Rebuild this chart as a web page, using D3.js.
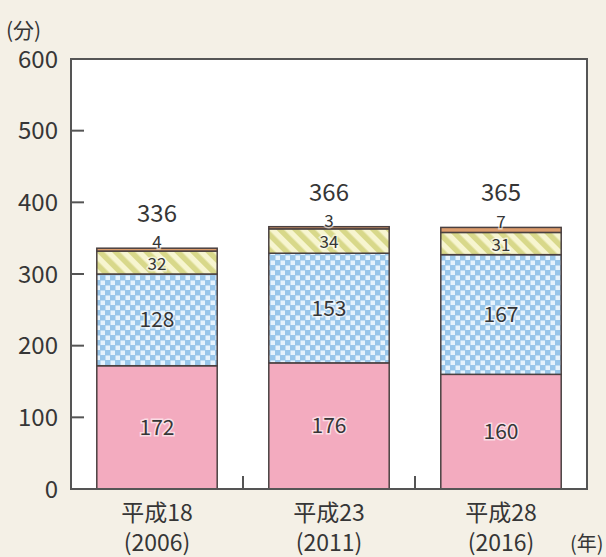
<!DOCTYPE html>
<html>
<head>
<meta charset="utf-8">
<script src="https://cdn.jsdelivr.net/npm/d3@7"></script>
<style>
  html, body { margin: 0; padding: 0; background: #f4f0e6; }
  svg { display: block; }
  text { font-family: "Noto Sans CJK JP", "Noto Sans", sans-serif; fill: #363636; }
</style>
</head>
<body>
<svg width="606" height="557"></svg>
<script>
const years = ['平成18', '平成23', '平成28'];
const yearsWest = ['(2006)', '(2011)', '(2016)'];
const seriesKeys = ['pink', 'blue', 'yellow', 'topSeg'];
const pinkValues = [172, 176, 160];
const blueValues = [128, 153, 167];
const yellowValues = [32, 34, 31];
const topValues = [4, 3, 7];
const totals = [336, 366, 365];
const yTicks = [0, 100, 200, 300, 400, 500, 600];

const svg = d3.select('svg');
const defs = svg.append('defs');

// patterns: checker for blue, diagonal stripes for yellow
const checker = defs.append('pattern')
  .attr('id', 'checker').attr('patternUnits', 'userSpaceOnUse')
  .attr('width', 10).attr('height', 10);
checker.append('rect').attr('width', 10).attr('height', 10).attr('fill', '#98c6ea');
checker.append('rect').attr('x', 0.5).attr('y', 0.5).attr('width', 4.5).attr('height', 4.5).attr('fill', '#e6f3fd');
checker.append('rect').attr('x', 5.5).attr('y', 5.5).attr('width', 4.5).attr('height', 4.5).attr('fill', '#e6f3fd');

const stripes = defs.append('pattern')
  .attr('id', 'stripes').attr('patternUnits', 'userSpaceOnUse')
  .attr('width', 11).attr('height', 11)
  .attr('patternTransform', 'rotate(-45)');
stripes.append('rect').attr('width', 11).attr('height', 11).attr('fill', '#f7f5d0');
stripes.append('rect').attr('width', 5.5).attr('height', 11).attr('fill', '#d8d88a');

const fills = { pink: '#f3abbf', blue: 'url(#checker)', yellow: 'url(#stripes)', topSeg: '#dc9c6c' };

const pLeft = 71, pRight = 587, pTop = 59, pBottom = 489;

const x = d3.scaleBand().domain(years).range([pLeft, pRight]).paddingInner(0.3).paddingOuter(0.15);
const y = d3.scaleLinear().domain([0, 600]).range([pBottom, pTop]);

const rows = years.map((yr, i) => ({
  year: yr, pink: pinkValues[i], blue: blueValues[i], yellow: yellowValues[i], topSeg: topValues[i], total: totals[i]
}));
const stacked = d3.stack().keys(seriesKeys)(rows);

// plot area
svg.append('rect')
  .attr('x', pLeft).attr('y', pTop)
  .attr('width', pRight - pLeft).attr('height', pBottom - pTop)
  .attr('fill', '#ffffff');

// bars
const layers = svg.selectAll('g.layer')
  .data(stacked)
  .enter()
  .append('g')
  .attr('class', 'layer');

layers.selectAll('rect')
  .data(d => d.map(s => ({ key: d.key, s })))
  .enter()
  .append('rect')
  .attr('x', d => x(d.s.data.year))
  .attr('width', x.bandwidth())
  .attr('y', d => y(d.s[1]))
  .attr('height', d => y(d.s[0]) - y(d.s[1]))
  .attr('fill', d => fills[d.key])
  .attr('stroke', '#4a4040')
  .attr('stroke-width', 1.5);

// frame
svg.append('rect')
  .attr('x', pLeft).attr('y', pTop)
  .attr('width', pRight - pLeft).attr('height', pBottom - pTop)
  .attr('fill', 'none')
  .attr('stroke', '#555')
  .attr('stroke-width', 2);

// y axis ticks (inward) and labels
svg.selectAll('line.ytick')
  .data(yTicks.slice(1, -1))
  .enter()
  .append('line')
  .attr('x1', pLeft).attr('x2', pLeft + 13)
  .attr('y1', d => y(d)).attr('y2', d => y(d))
  .attr('stroke', '#555').attr('stroke-width', 2);

svg.selectAll('text.ylabel')
  .data(yTicks)
  .enter()
  .append('text')
  .attr('x', 58)
  .attr('y', d => y(d))
  .attr('dy', '0.36em')
  .attr('text-anchor', 'end')
  .attr('font-size', 24)
  .text(d => d);

svg.append('text').attr('x', 6).attr('y', 38).attr('font-size', 21).text('(分)');

// x boundary ticks between categories
svg.selectAll('line.xtick')
  .data(years.slice(1))
  .enter()
  .append('line')
  .attr('x1', d => x(d) - x.step() * x.paddingInner() / 2)
  .attr('x2', d => x(d) - x.step() * x.paddingInner() / 2)
  .attr('y1', pBottom).attr('y2', pBottom - 13)
  .attr('stroke', '#555').attr('stroke-width', 2);

// x labels
svg.selectAll('text.xl1')
  .data(years)
  .enter()
  .append('text')
  .attr('x', d => x(d) + x.bandwidth() / 2)
  .attr('y', 521)
  .attr('text-anchor', 'middle')
  .attr('font-size', 23)
  .text(d => d);

svg.selectAll('text.xl2')
  .data(yearsWest)
  .enter()
  .append('text')
  .attr('x', (d, i) => x(years[i]) + x.bandwidth() / 2)
  .attr('y', 551)
  .attr('text-anchor', 'middle')
  .attr('font-size', 23)
  .text(d => d);

svg.append('text').attr('x', 570).attr('y', 551).attr('font-size', 20).text('(年)');

// segment value labels
const labelData = [];
stacked.forEach(layer => {
  layer.forEach(s => {
    const v = s[1] - s[0];
    let cy = (y(s[0]) + y(s[1])) / 2;
    if (layer.key === 'yellow') cy += 1;
    if (layer.key === 'topSeg') cy = y(s[1]) - 6;
    labelData.push({ x: x(s.data.year) + x.bandwidth() / 2, y: cy, v, key: layer.key });
  });
});

svg.selectAll('text.seg')
  .data(labelData)
  .enter()
  .append('text')
  .attr('x', d => d.x)
  .attr('y', d => d.y)
  .attr('dy', '0.36em')
  .attr('text-anchor', 'middle')
  .attr('font-size', d => d.key === 'pink' || d.key === 'blue' ? 21 : 17)
  .attr('stroke', '#ffffff')
  .attr('stroke-width', 3)
  .attr('stroke-opacity', 0.6)
  .attr('paint-order', 'stroke')
  .text(d => d.v);

// totals
svg.selectAll('text.total')
  .data(rows)
  .enter()
  .append('text')
  .attr('x', d => x(d.year) + x.bandwidth() / 2)
  .attr('y', d => y(d.total) - 26)
  .attr('text-anchor', 'middle')
  .attr('font-size', 24)
  .text(d => d.total);
</script>
</body>
</html>
